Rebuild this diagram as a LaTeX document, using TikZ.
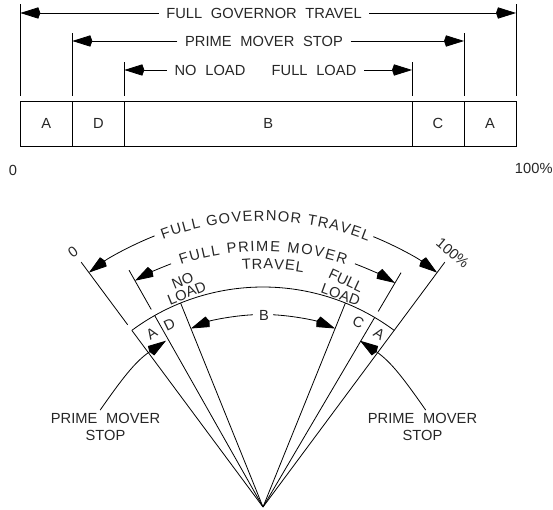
\documentclass[tikz,border=0pt]{standalone}
\usepackage{fontspec}
\setmainfont{Liberation Sans}[LetterSpace=0.3,WordSpace=2.1]
\newfontfamily\arcfont{Liberation Sans}
\usetikzlibrary{positioning,arrows.meta,decorations.text}
\tikzset{
	dimline/.style={-{Kite[length=15pt,width=8.5pt,inset=1.5pt]}},
	plainline/.style={line width=0.6pt},
	cell/.style={draw,line width=0.6pt,inner sep=0pt,outer sep=0pt,minimum height=33.2pt,minimum width=39pt},
	lbl/.style={inner xsep=5.5pt,inner ysep=2pt,font=\fontsize{11}{13}\selectfont,text=black!85},
	arctext/.style={decorate,decoration={text along path,text align=fit to path,text={|\arcfont\fontsize{11}{13}\selectfont\color{black!85}|#1}}}
}
\begin{document}
\begin{tikzpicture}[x=0.75pt,y=0.75pt,line width=0.6pt]
	\useasboundingbox (0,0) rectangle (553,510);
	\node[cell,anchor=north west] (cellAl) at (20.3,408.3) {};
	\node[cell,right=0pt of cellAl] (cellD) {};
	\node[cell,right=0pt of cellD,minimum width=215.8pt] (cellB) {};
	\node[cell,right=0pt of cellB] (cellC) {};
	\node[cell,right=0pt of cellC] (cellAr) {};
	\foreach \c/\t in {cellAl/A,cellD/D,cellB/B,cellC/C,cellAr/A}
		\node[lbl] (t\c) at (\c) {\t};
	\draw[plainline] (cellAl.north west) ++(0,6) -- ++(0,91.4);
	\draw[plainline] (cellD.north west) ++(0,6) -- ++(0,62.7);
	\draw[plainline] (cellB.north west) ++(0,6) -- ++(0,33.4);
	\draw[plainline] (cellC.north west) ++(0,6) -- ++(0,33.4);
	\draw[plainline] (cellAr.north west) ++(0,6) -- ++(0,62.7);
	\draw[plainline] (cellAr.north east) ++(0,6) -- ++(0,91.4);
	\node[lbl] (fullgov) at (264,497) {FULL GOVERNOR TRAVEL};
	\node[lbl] (primestop) at (264,469) {PRIME MOVER STOP};
	\node[lbl] (noload) at (210,440) {NO LOAD};
	\node[lbl] (fullload) at (314,440) {FULL LOAD};
	\draw[dimline] (fullgov) -- (fullgov -| cellAl.west);
	\draw[dimline] (fullgov) -- (fullgov -| cellAr.east);
	\draw[dimline] (primestop) -- (primestop -| cellD.west);
	\draw[dimline] (primestop) -- (primestop -| cellC.east);
	\draw[dimline] (noload) -- (noload -| cellB.west);
	\draw[dimline] (fullload) -- (fullload -| cellB.east);
	\node[lbl] (zero) at (13,340) {0};
	\node[lbl,anchor=east,inner xsep=0pt] (hundred) at (553,342) {100\%};
	\coordinate (apex) at (263,3);
	\begin{scope}[shift={(apex)}]
		\foreach \a/\r in {126.6/220,119.5/220,112/220,68/220,59.5/220,53.4/305}
			\draw[plainline] (0,0) -- (\a:\r);
		\draw[plainline] (126.6:227) -- (126.6:305);
		\draw[plainline] (119.5:227) -- (119.5:272);
		\draw[plainline] (59.5:227) -- (59.5:272);
		\draw[plainline] (126.6:220) arc[start angle=126.6,end angle=53.4,radius=220];
		\coordinate (gl) at (111.8:292);
		\coordinate (gr) at (67.8:292);
		\coordinate (pl) at (110.7:260);
		\coordinate (pr) at (69.3:260);
		\coordinate (bl) at (93:192.5);
		\coordinate (br) at (87:192.5);
		\draw[dimline] (gl) arc[start angle=111.8,end angle=126.6,radius=292];
		\draw[dimline] (gr) arc[start angle=67.8,end angle=53.4,radius=292];
		\draw[dimline] (pl) arc[start angle=110.7,end angle=119.5,radius=260];
		\draw[dimline] (pr) arc[start angle=69.3,end angle=59.5,radius=260];
		\draw[dimline] (bl) arc[start angle=93,end angle=112,radius=192.5];
		\draw[dimline] (br) arc[start angle=87,end angle=68,radius=192.5];
		\path[arctext={FULL GOVERNOR TRAVEL}] (110.5:286) arc[start angle=110.5,end angle=68.5,radius=286];
		\path[arctext={FULL PRIME MOVER}] (108.7:256) arc[start angle=108.7,end angle=71.2,radius=256];
		\path[arctext={TRAVEL}] (95:238) arc[start angle=95,end angle=80.3,radius=238];
	\end{scope}
	\node[lbl] (bmid) at (264,195) {B};
	\node[lbl,rotate=36] (arczero) at (73,258) {0};
	\node[lbl,rotate=-40] (archundred) at (452.7,257) {100\%};
	\node[lbl,rotate=22] (no) at (182.7,229.3) {NO};
	\node[lbl,rotate=22] (loadl) at (186.7,217) {LOAD};
	\node[lbl,rotate=-25] (full) at (346,229.3) {FULL};
	\node[lbl,rotate=-20] (loadr) at (340.7,215) {LOAD};
	\node[lbl,rotate=33] (segAl) at (151.7,176) {A};
	\node[lbl,rotate=26] (segD) at (169.3,185.7) {D};
	\node[lbl,rotate=-26] (segC) at (358.3,187.3) {C};
	\node[lbl,rotate=-33] (segAr) at (379.3,176) {A};
	\node[lbl,align=center] (stopl) at (105.5,83) {PRIME MOVER\\STOP};
	\node[lbl,align=center] (stopr) at (422.5,83) {PRIME MOVER\\STOP};
	\coordinate (tipl) at (166,169.3);
	\coordinate (tipr) at (360,169.3);
	\draw[dimline] ([xshift=-4pt]stopl.north) to[out=55,in=214] (tipl);
	\draw[dimline] ([xshift=2.4pt]stopr.north) to[out=125,in=-34] (tipr);
\end{tikzpicture}
\end{document}
